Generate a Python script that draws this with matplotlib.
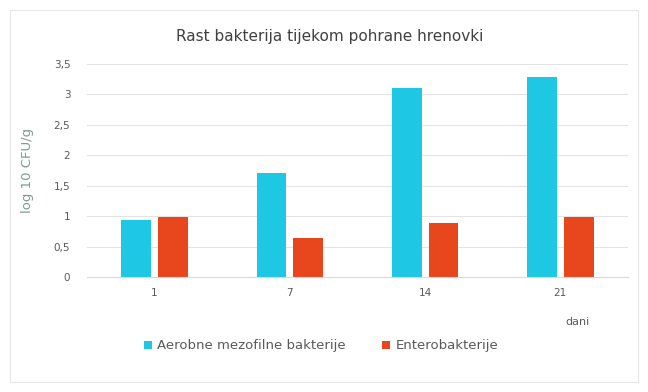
import numpy as np
import matplotlib.pyplot as plt

days = ['1', '7', '14', '21']
aerobne = [0.94, 1.71, 3.10, 3.28]
entero = [0.99, 0.64, 0.89, 0.99]

blue = '#1ec8e4'
red = '#e8471e'

fig = plt.figure(figsize=(6.48, 3.92), dpi=100)
ax = fig.add_axes([87 / 648, 1 - 277 / 392, 541 / 648, 213 / 392])

x = np.arange(len(days))
w = 0.22
ax.bar(x - 0.135, aerobne, w, color=blue, label='Aerobne mezofilne bakterije')
ax.bar(x + 0.135, entero, w, color=red, label='Enterobakterije')

ax.set_xlim(-0.5, 3.5)
ax.set_ylim(0, 3.5)
ax.set_yticks(np.arange(0, 3.51, 0.5))
ax.set_yticklabels(['0', '0,5', '1', '1,5', '2', '2,5', '3', '3,5'])
ax.set_xticks(x)
ax.set_xticklabels(days)
ax.tick_params(length=0, labelsize=7.5, colors='#595959', pad=12)
ax.tick_params(axis='x', pad=8)
ax.grid(axis='y', color='#e3e3e3', linewidth=0.8)
ax.set_axisbelow(True)
for s in ['top', 'right', 'left']:
    ax.spines[s].set_visible(False)
ax.spines['bottom'].set_color('#d9d9d9')

ax.set_ylabel('log 10 CFU/g', fontsize=9.5, color='#7f9a92', labelpad=14)
fig.text(330 / 648, 1 - 37 / 392, 'Rast bakterija tijekom pohrane hrenovki',
         ha='center', va='center', fontsize=11, color='#404040')
fig.text(578 / 648, 1 - 322 / 392, 'dani', ha='center', va='center',
         fontsize=8, color='#595959')
fig.legend(loc='center', bbox_to_anchor=(321 / 648, 1 - 346 / 392), ncol=2,
           frameon=False, fontsize=9.5, handlelength=0.6, handleheight=0.6,
           handletextpad=0.4, columnspacing=2.8, labelcolor='#595959')

border = plt.Rectangle((0.015, 0.025), 0.97, 0.95, transform=fig.transFigure,
                       fill=False, edgecolor='#e6e6e6', linewidth=0.8)
fig.patches.append(border)

fig.savefig('out.png', dpi=100)
